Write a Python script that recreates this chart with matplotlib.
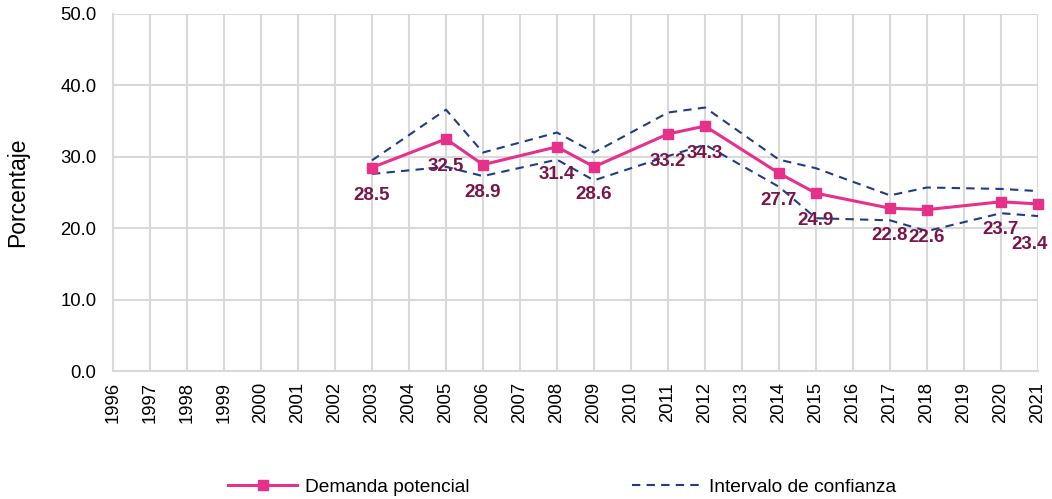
import matplotlib
matplotlib.use("Agg")
import matplotlib.pyplot as plt
from matplotlib.lines import Line2D

plt.rcParams['font.family'] = ['Liberation Sans', 'DejaVu Sans']

# Axis categories
years_axis = list(range(1996, 2022))

# Survey years with estimates
years = [2003, 2005, 2006, 2008, 2009, 2011, 2012, 2014, 2015, 2017, 2018, 2020, 2021]
demanda = [28.5, 32.5, 28.9, 31.4, 28.6, 33.2, 34.3, 27.7, 24.9, 22.8, 22.6, 23.7, 23.4]
ic_sup = [29.5, 36.6, 30.6, 33.4, 30.6, 36.2, 36.9, 29.6, 28.4, 24.6, 25.7, 25.5, 25.2]
ic_inf = [27.6, 28.6, 27.3, 29.6, 26.7, 30.1, 31.7, 25.8, 21.4, 21.1, 19.6, 22.1, 21.7]

pink = '#E6308A'
navy = '#1F3C88'
label_col = '#7A1548'
grid_col = '#D9D9D9'

fig = plt.figure(figsize=(10.52, 4.99), dpi=100)
ax = fig.add_axes([113/1052, 1-371/499, (1038-113)/1052, (371-14)/499])

ax.set_xlim(years_axis[0], years_axis[-1])
ax.set_ylim(0, 50)
ax.set_yticks([0, 10, 20, 30, 40, 50])
ax.set_yticklabels([f'{v:.1f}' for v in [0, 10, 20, 30, 40, 50]], fontsize=13.3)
ax.set_xticks(years_axis)
ax.set_xticklabels([str(y) for y in years_axis], rotation=90, fontsize=13.3)
ax.tick_params(axis='y', length=0, pad=12)
ax.tick_params(axis='x', length=0, pad=8)
ax.grid(True, color=grid_col, linewidth=1.5)
ax.set_axisbelow(True)
for s in ['top', 'right']:
    ax.spines[s].set_visible(False)
for s in ['left', 'bottom']:
    ax.spines[s].set_color(grid_col)
    ax.spines[s].set_linewidth(1.5)

ax.set_ylabel('Porcentaje', fontsize=16.5, labelpad=22)

dash_kw = dict(color=navy, linewidth=1.5, dashes=(4, 3))
ax.plot(years, ic_sup, **dash_kw, zorder=3)
ax.plot(years, ic_inf, **dash_kw, zorder=3)
ax.plot(years, demanda, color=pink, linewidth=2.2, marker='s', markersize=7,
        markerfacecolor=pink, markeredgecolor=pink, zorder=4, clip_on=False)

# Value labels below each point; the last one is nudged to stay clear of its neighbour
for i, (x, v) in enumerate(zip(years, demanda)):
    off = (-6, -29) if i == len(years) - 1 else (0, -20)
    ax.annotate(f'{v:.1f}', xy=(x, v), xytext=off, textcoords='offset points',
                ha='center', va='center', fontsize=13.5, fontweight='bold',
                color=label_col, annotation_clip=False, zorder=5)

handles = [
    Line2D([], [], color=pink, linewidth=2.2, marker='s', markersize=7,
           markerfacecolor=pink, markeredgecolor=pink),
    Line2D([], [], **dash_kw),
]
fig.legend(handles, ['Demanda potencial', 'Intervalo de confianza'],
           loc='center', bbox_to_anchor=(562/1052, 1-487/499), ncol=2,
           frameon=False, fontsize=13.8, handlelength=3.6, handletextpad=0.4,
           columnspacing=8.5)

fig.savefig('out.png', dpi=100)
